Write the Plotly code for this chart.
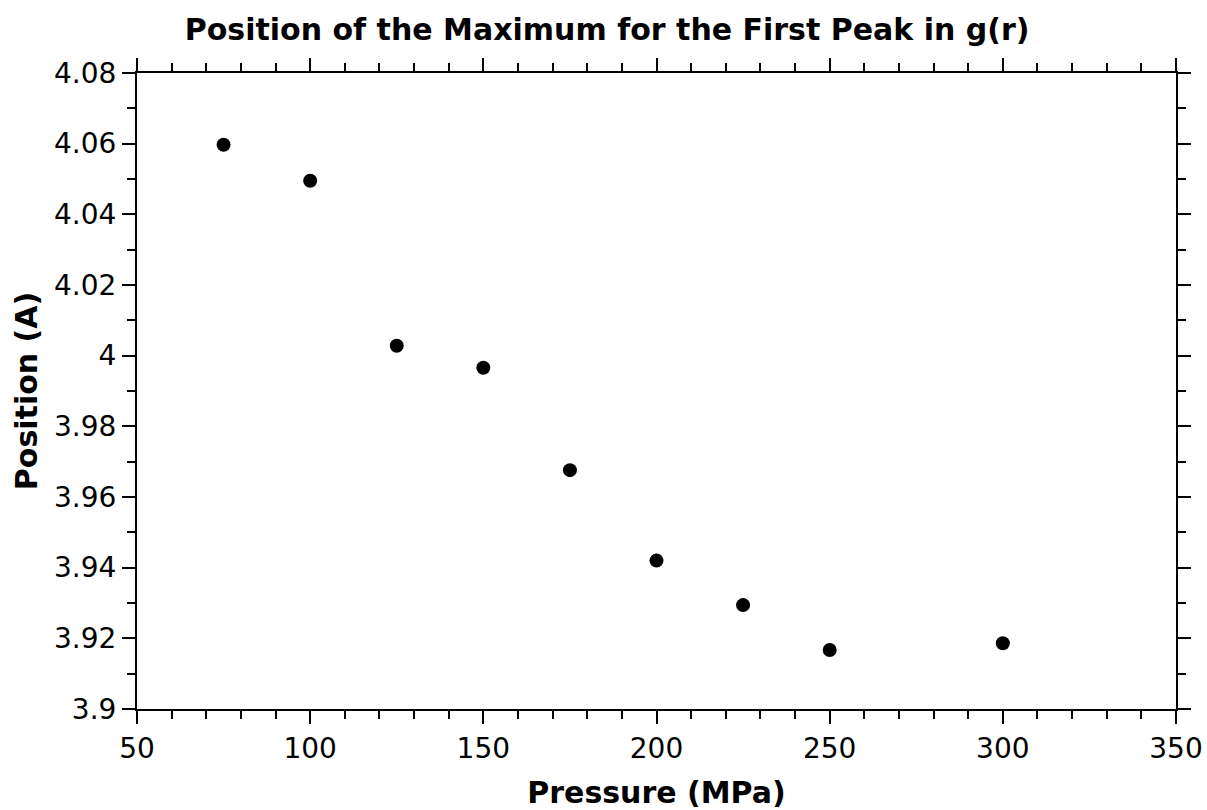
import plotly.graph_objects as go

pressure = [75, 100, 125, 150, 175, 200, 225, 250, 300]
position = [4.0597, 4.0495, 4.0028, 3.9966, 3.9676, 3.9420, 3.9294, 3.9167, 3.9186]

fig = go.Figure()
fig.add_trace(go.Scatter(
    x=pressure, y=position, mode="markers",
    marker=dict(color="black", size=14, symbol="circle"),
    showlegend=False,
))

axis_common = dict(
    showline=True, linecolor="black", linewidth=2, mirror="ticks",
    ticks="outside", ticklen=13, tickwidth=2, tickcolor="black",
    showgrid=False, zeroline=False, automargin=False,
    tickfont=dict(family="DejaVu Sans", size=28, color="black"),
)

fig.update_layout(
    width=1207, height=810,
    margin=dict(l=137, r=31, t=73, b=101, autoexpand=False),
    paper_bgcolor="white", plot_bgcolor="white",
    title=dict(text="<b>Position of the Maximum for the First Peak in g(r)</b>",
               x=0.503, xanchor="center", y=0.963, yanchor="middle",
               font=dict(family="DejaVu Sans", size=30, color="black")),
    xaxis=dict(range=[50, 350], dtick=50, tick0=50,
               minor=dict(dtick=10, ticks="outside", ticklen=8, tickwidth=2, tickcolor="black"),
               title=dict(text="<b>Pressure (MPa)</b>", standoff=22,
                          font=dict(family="DejaVu Sans", size=30, color="black")),
               **axis_common),
    yaxis=dict(range=[3.9, 4.08], dtick=0.02, tick0=3.9,
               minor=dict(dtick=0.01, ticks="outside", ticklen=8, tickwidth=2, tickcolor="black"),
               title=dict(text="<b>Position (A)</b>", standoff=8,
                          font=dict(family="DejaVu Sans", size=30, color="black")),
               **axis_common),
)

fig.write_html("out.html")
